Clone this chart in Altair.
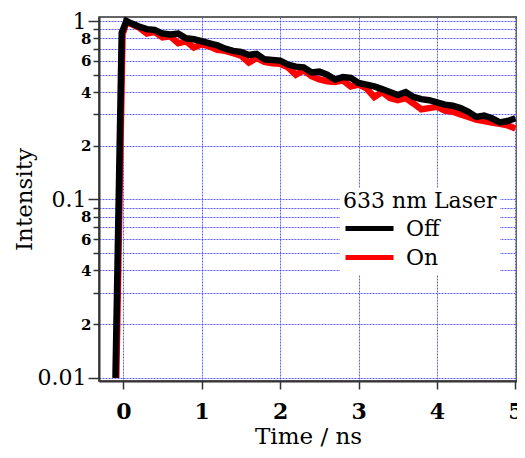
import altair as alt
import pandas as pd

# ---- data ----
off_x = [-0.10, -0.02, 0.04, 0.1, 0.2, 0.3, 0.4, 0.5, 0.6, 0.7, 0.8, 0.9, 1.0,
         1.1, 1.2, 1.3, 1.4, 1.5, 1.6, 1.7, 1.8, 1.9, 2.0, 2.1, 2.2, 2.3, 2.4, 2.5,
         2.6, 2.7, 2.8, 2.9, 3.0, 3.1, 3.2, 3.3, 3.4, 3.5, 3.6, 3.7, 3.8, 3.9, 4.0,
         4.1, 4.2, 4.3, 4.4, 4.5, 4.6, 4.7, 4.8, 4.9, 5.0]
off_y = [0.0100, 0.86, 1.00, 0.97, 0.93, 0.90, 0.89, 0.85, 0.84, 0.85, 0.80, 0.79, 0.77,
         0.75, 0.73, 0.70, 0.68, 0.67, 0.645, 0.655, 0.61, 0.605, 0.60, 0.57, 0.555, 0.55, 0.515, 0.52,
         0.50, 0.47, 0.485, 0.48, 0.45, 0.44, 0.43, 0.415, 0.40, 0.385, 0.40, 0.375, 0.365, 0.36, 0.35,
         0.34, 0.335, 0.325, 0.31, 0.29, 0.295, 0.285, 0.27, 0.275, 0.285]

on_x = [-0.09, -0.01, 0.04, 0.1, 0.2, 0.3, 0.4, 0.5, 0.6, 0.7, 0.8, 0.9, 1.0,
        1.1, 1.2, 1.3, 1.4, 1.5, 1.6, 1.7, 1.8, 1.9, 2.0, 2.1, 2.2, 2.3, 2.4, 2.5,
        2.6, 2.7, 2.8, 2.9, 3.0, 3.1, 3.2, 3.3, 3.4, 3.5, 3.6, 3.7, 3.8, 3.9, 4.0,
        4.1, 4.2, 4.3, 4.4, 4.5, 4.6, 4.7, 4.8, 4.9, 5.0]
on_y = [0.0100, 0.84, 0.99, 0.96, 0.92, 0.85, 0.87, 0.81, 0.82, 0.75, 0.77, 0.71, 0.74,
        0.72, 0.69, 0.68, 0.66, 0.64, 0.585, 0.62, 0.59, 0.58, 0.575, 0.55, 0.50, 0.53, 0.49, 0.47,
        0.46, 0.455, 0.465, 0.43, 0.44, 0.42, 0.375, 0.40, 0.37, 0.36, 0.37, 0.345, 0.32, 0.325, 0.33,
        0.315, 0.31, 0.30, 0.29, 0.28, 0.275, 0.27, 0.265, 0.26, 0.25]

series = ["Off", "On"]
colors = ["#000000", "#ff0000"]

x_ticks = [0, 1, 2, 3, 4, 5]
y_tick_values = [0.01, 0.02, 0.03, 0.04, 0.05, 0.06, 0.07, 0.08, 0.09,
                 0.1, 0.2, 0.3, 0.4, 0.5, 0.6, 0.7, 0.8, 0.9, 1]
y_tick_labels = ["0.01", "2", "", "4", "", "6", "", "8", "",
                 "0.1", "2", "", "4", "", "6", "", "8", "", "1"]
y_major = [0.01, 0.1, 1]

df = pd.concat([
    pd.DataFrame({"t": off_x, "I": off_y, "Laser": "Off", "o": range(len(off_x))}),
    pd.DataFrame({"t": on_x, "I": on_y, "Laser": "On", "o": range(len(on_x))}),
])

FONT = "DejaVu Serif"
vals_js = "[" + ",".join(repr(v) for v in y_tick_values) + "]"
labs_js = "[" + ",".join("'" + s + "'" for s in y_tick_labels) + "]"
major_js = "[" + ",".join(repr(v) for v in y_major) + "]"
is_major = f"indexof({major_js}, datum.value) >= 0"

color = alt.Color("Laser:N",
                  scale=alt.Scale(domain=series, range=colors),
                  legend=alt.Legend(title="633 nm Laser", orient="none",
                                    legendX=241, legendY=171,
                                    fillColor="white", padding=3,
                                    titleFont=FONT, titleFontSize=22,
                                    titleFontWeight="normal", titleColor="black",
                                    titlePadding=1,
                                    labelFont=FONT, labelFontSize=22, labelColor="black",
                                    symbolType="stroke", symbolSize=2304,
                                    symbolStrokeWidth=5, clipHeight=29,
                                    labelOffset=10, rowPadding=0))

x = alt.X("t:Q", scale=alt.Scale(domain=[-0.31, 5.02], nice=False, zero=False),
          axis=alt.Axis(values=x_ticks, title="Time / ns", format="d",
                        labelFontSize=22, labelFontWeight="bold", titleFontSize=23,
                        labelPadding=12, tickSize=8, titlePadding=3))
y = alt.Y("I:Q", scale=alt.Scale(type="log", domain=[0.0096, 1.053], nice=False),
          axis=alt.Axis(values=y_tick_values, title="Intensity", labelOverlap=False,
                        labelExpr=f"{labs_js}[indexof({vals_js}, datum.value)]",
                        labelFontSize={"condition": {"test": is_major, "value": 22}, "value": 15},
                        labelFontWeight={"condition": {"test": is_major, "value": "normal"}, "value": "bold"},
                        tickSize={"condition": {"test": is_major, "value": 11}, "value": 6},
                        labelPadding=2, titleFontSize=23,
                        titleX=-75, titleBaseline="middle"))

base = alt.Chart(df)
red = base.transform_filter(alt.datum.Laser == "On").mark_line(strokeWidth=6.5).encode(
    x=x, y=y, color=color, order="o:Q")
black = base.transform_filter(alt.datum.Laser == "Off").mark_line(strokeWidth=6.5).encode(
    x=x, y=y, color=color, order="o:Q")

chart = alt.layer(red, black).properties(
    width=418, height=364,
    autosize=alt.AutoSizeParams(type="none"),
    padding={"left": 91, "top": 9, "right": 0, "bottom": 69},
).configure_view(stroke="#333333", strokeWidth=1.5
).configure_axis(
    labelFont=FONT, titleFont=FONT, labelColor="black", titleColor="black",
    titleFontWeight="normal",
    domainColor="#333333", domainWidth=2, tickColor="#333333", tickWidth=1.5,
    gridColor="#4444ff", gridDash=[2, 1], gridWidth=1, gridOpacity=0.85,
)

chart.save("out.html", embed_options={"renderer": "svg", "actions": False})
